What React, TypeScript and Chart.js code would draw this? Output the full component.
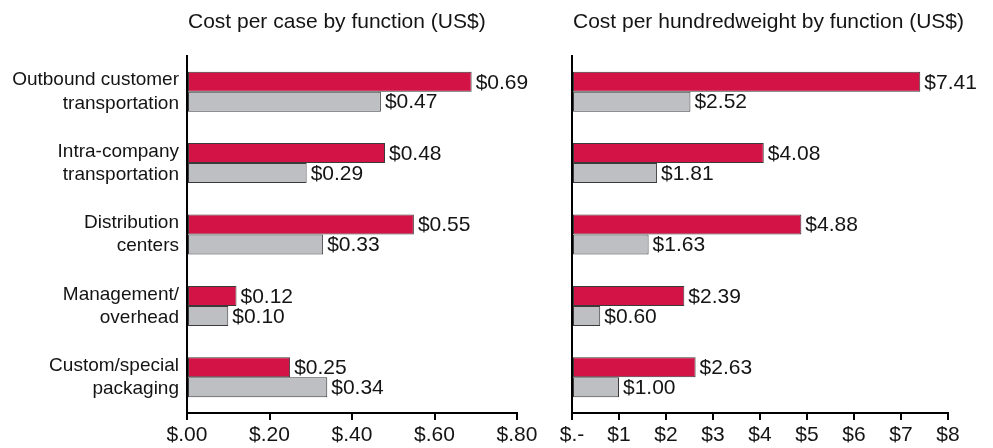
import React, { useEffect, useRef } from "react";
import { Chart, registerables } from "chart.js";

Chart.register(...registerables);

const categories: string[][] = [
  ["Outbound customer", "transportation"],
  ["Intra-company", "transportation"],
  ["Distribution", "centers"],
  ["Management/", "overhead"],
  ["Custom/special", "packaging"],
];
const caseRed = [0.69, 0.48, 0.55, 0.12, 0.25];
const caseGrey = [0.47, 0.29, 0.33, 0.1, 0.34];
const cwtRed = [7.41, 4.08, 4.88, 2.39, 2.63];
const cwtGrey = [2.52, 1.81, 1.63, 0.6, 1.0];
const caseTicks = ["$.00", "$.20", "$.40", "$.60", "$.80"];
const cwtTicks = ["$.-", "$1", "$2", "$3", "$4", "$5", "$6", "$7", "$8"];
const caseTitle = "Cost per case by function (US$)";
const cwtTitle = "Cost per hundredweight by function (US$)";

const FONT = "'Liberation Sans', Arial, sans-serif";
const RED = "#D31245";
const GREY = "#BEBFC3";
const TEXT = "#141414";

function makeConfig(opts: {
  red: number[];
  grey: number[];
  ticks: string[];
  max: number;
  step: number;
  title: string;
  showLabels: boolean;
  yWidth: number;
  padRight: number;
}): any {
  const labelPlugin = {
    id: "valueLabels",
    afterDatasetsDraw(chart: any) {
      const ctx = chart.ctx;
      ctx.save();
      ctx.font = `21px ${FONT}`;
      ctx.fillStyle = TEXT;
      ctx.textBaseline = "middle";
      ctx.textAlign = "left";
      chart.data.datasets.forEach((ds: any, di: number) => {
        const meta = chart.getDatasetMeta(di);
        meta.data.forEach((el: any, i: number) => {
          const v = ds.data[i];
          ctx.fillText("$" + v.toFixed(2), el.x + 4, el.y + 1);
        });
      });
      ctx.restore();
    },
  };
  const titlePlugin = {
    id: "leftTitle",
    afterDraw(chart: any) {
      const ctx = chart.ctx;
      ctx.save();
      ctx.font = `21px ${FONT}`;
      ctx.fillStyle = TEXT;
      ctx.textBaseline = "middle";
      ctx.textAlign = "left";
      ctx.fillText(opts.title, chart.chartArea.left + 1, 22);
      ctx.restore();
    },
  };
  return {
    type: "bar",
    data: {
      labels: categories,
      datasets: [
        {
          data: opts.red,
          backgroundColor: RED,
          borderColor: "#3a3a3a",
          borderWidth: 1,
          borderSkipped: false,
          categoryPercentage: 0.56,
          barPercentage: 1.0,
        },
        {
          data: opts.grey,
          backgroundColor: GREY,
          borderColor: "#3a3a3a",
          borderWidth: 1,
          borderSkipped: false,
          categoryPercentage: 0.56,
          barPercentage: 1.0,
        },
      ],
    },
    options: {
      indexAxis: "y",
      responsive: false,
      animation: false,
      devicePixelRatio: 1,
      layout: { padding: { top: 56, right: opts.padRight, left: 0, bottom: 0 } },
      plugins: {
        legend: { display: false },
        title: { display: false },
        tooltip: { enabled: false },
      },
      scales: {
        x: {
          min: 0,
          max: opts.max,
          ticks: {
            stepSize: opts.step,
            color: TEXT,
            font: { family: FONT, size: 21 },
            padding: 3,
            maxRotation: 0,
            callback: (_v: any, i: number) => opts.ticks[i],
          },
          grid: {
            drawOnChartArea: false,
            drawTicks: true,
            tickLength: 7,
            color: "#000",
            lineWidth: 2,
          },
          border: { display: true, color: "#000", width: 2 },
          afterFit: (scale: any) => {
            scale.height = 35;
          },
        },
        y: {
          ticks: {
            display: opts.showLabels,
            color: TEXT,
            font: { family: FONT, size: 19, lineHeight: 1.22 },
            padding: 8,
          },
          grid: { drawOnChartArea: false, drawTicks: false },
          border: { display: true, color: "#000", width: 2 },
          afterFit: (scale: any) => {
            scale.width = opts.yWidth;
          },
        },
      },
    },
    plugins: [labelPlugin, titlePlugin],
  };
}

function Panel(props: { left: number; width: number; cfg: any }) {
  const ref = useRef<HTMLCanvasElement>(null);
  useEffect(() => {
    const chart = new Chart(ref.current as HTMLCanvasElement, props.cfg);
    return () => chart.destroy();
  }, []);
  return (
    <canvas
      ref={ref}
      width={props.width}
      height={448}
      style={{ position: "absolute", left: props.left, top: 0, width: props.width, height: 448 }}
    />
  );
}

export default function App() {
  const leftCfg = makeConfig({
    red: caseRed,
    grey: caseGrey,
    ticks: caseTicks,
    max: 0.8,
    step: 0.2,
    title: caseTitle,
    showLabels: true,
    yWidth: 187,
    padRight: 28,
  });
  const rightCfg = makeConfig({
    red: cwtRed,
    grey: cwtGrey,
    ticks: cwtTicks,
    max: 8,
    step: 1,
    title: cwtTitle,
    showLabels: false,
    yWidth: 27,
    padRight: 45,
  });
  return (
    <div style={{ position: "fixed", left: 0, top: 0, width: 993, height: 448, background: "#fff" }}>
      <Panel left={0} width={545} cfg={leftCfg} />
      <Panel left={545} width={448} cfg={rightCfg} />
    </div>
  );
}
